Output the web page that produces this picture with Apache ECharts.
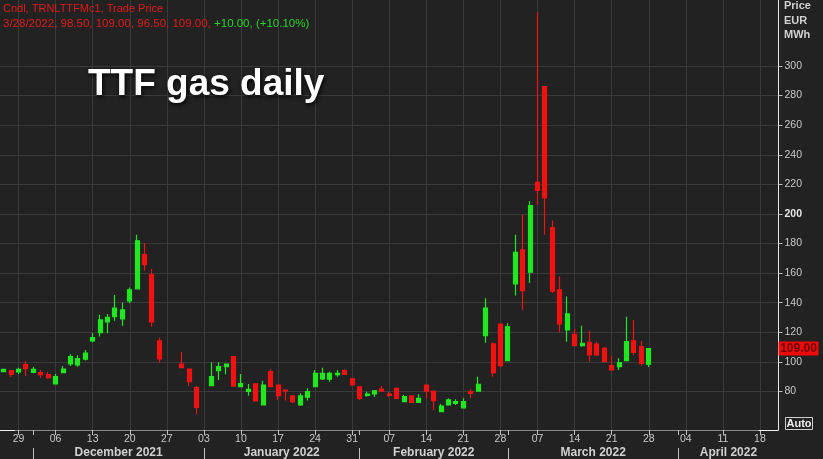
<!DOCTYPE html>
<html><head><meta charset="utf-8">
<script src="https://cdn.jsdelivr.net/npm/echarts@6/dist/echarts.min.js"></script>
<style>html,body{margin:0;padding:0;background:#222222;}#c{width:823px;height:459px;}</style>
</head><body><div id="c"></div>
<script>
// ---- data (trading days from 2021-11-25 to 2022-03-28; null = no trading) ----
const firstDay = '2021-11-25';
const lastDay = '2022-04-20';
const opens = [93.4,94.2,93.2,98.1,92.9, 92.7,91.4,85.1,92.7,98.6, 97.9,101.9,114.2,119.8,127.1,
  130.6,129.1,141.3,149.4,172.6, 158.9,114.2,null,null,98.6, 95.2,82.6,null,83.9,94.1,
  96.8,103.6,83.2,80.1,85.1, 70.9,93.4,84.4,81.0,77.0, 70.9,76.1,83.2,88.5,88.3,
  91.4,94.1,88.5,83.2,77.4, 78.3,81.7,78.3,82.2,73.1, 77.0,72.7,84.4,80.3,66.3,
  70.9,72.0,69.0,79.9,80.3, 117.8,112.2,125.5,100.9,152.8, 175.8,160.6,221.4,286.0,190.8,
  148.7,121.6,118.7,111.0,113.3, 112.0,109.2,97.5,96.8,100.9, 114.2,110.3,98.5];
const closes = [94.9,91.6,95.0,95.4,94.9, 91.4,89.3,90.0,95.2,103.6, 102.2,106.0,116.4,128.4,130.2,
  136.3,135.2,148.7,181.9,165.8, 127.0,102.0,null,null,96.1, 86.6,69.3,null,90.0,96.8,
  98.6,83.7,85.3,81.5,73.6, 84.4,83.2,77.2,80.4,73.1, 77.0,79.9,92.3,92.3,92.3,
  92.3,91.6,84.4,75.4,78.3, 80.5,80.3,77.4,75.4,76.5, 72.7,75.4,80.3,73.9,70.2,
  74.3,73.1,73.1,78.8,84.9, 136.3,92.7,97.5,123.9,174.0, 148.2,205.6,215.9,210.8,147.9,
  125.7,132.5,111.0,112.6,104.7, 104.7,100.2,94.6,99.5,113.7, 106.5,99.0,109.0];
const lows = [93.0,89.8,91.8,90.7,92.9, 88.9,88.7,85.1,92.7,97.3, 96.8,100.9,113.3,117.1,119.4,
  127.9,124.5,139.7,149.4,161.8, 123.9,99.5,null,null,96.1, 83.9,64.6,null,83.9,87.8,
  91.6,83.2,83.2,77.2,73.2, 70.9,83.2,74.3,73.9,72.0, 70.2,73.9,82.8,87.8,86.6,
  90.0,91.6,84.4,74.3,76.5, 76.5,80.3,76.5,74.9,72.7, 72.7,72.7,75.4,67.5,65.9,
  70.9,70.9,69.0,75.4,79.9, 113.0,90.0,96.4,100.9,144.9, 135.2,153.3,206.3,185.9,146.5,
  119.8,113.7,111.0,110.3,100.2, 104.0,100.2,94.6,94.6,100.9, 104.7,97.5,96.5];
const highs = [95.3,94.5,96.1,100.6,96.6, 94.6,93.2,91.8,97.3,105.2, 104.5,108.1,119.6,131.8,132.3,
  145.3,140.1,150.3,186.0,180.3, 162.9,116.4,null,null,106.7, 95.2,83.7,null,99.8,99.8,
  98.6,103.6,91.8,85.1,85.4, 87.3,95.0,84.4,81.0,77.0, 78.8,82.2,94.6,96.1,93.4,
  94.6,95.0,88.5,83.2,79.9, 81.0,83.7,79.9,82.9,77.6, 77.0,78.1,84.4,80.3,71.5,
  75.4,74.7,75.4,81.5,90.0, 143.1,113.3,125.5,126.2,185.9, 199.5,208.5,336.4,286.0,195.6,
  157.7,144.2,122.3,124.5,121.0, 113.7,110.3,104.2,102.5,130.6, 128.4,114.2,109.0];
const yTickLabels = [80,100,120,140,160,180,200,220,240,260,280,300];
const monthNames = ['January','February','March','April','May','June','July','August','September','October','November','December'];
const titleText = 'TTF gas daily';
const headerLine1 = 'Cndl, TRNLTTFMc1, Trade Price';
const unitLines = ['Price','EUR','MWh'];

// ---- categories: weekdays ----
function weekdays(a, b) {
  const out = []; let d = new Date(a + 'T00:00:00Z'); const e = new Date(b + 'T00:00:00Z');
  while (d <= e) { const w = d.getUTCDay(); if (w !== 0 && w !== 6) out.push(d.toISOString().slice(0, 10)); d = new Date(d.getTime() + 86400000); }
  return out;
}
const categories = weekdays(firstDay, lastDay);
const isMonday = v => new Date(v + 'T00:00:00Z').getUTCDay() === 1;
const mondays = categories.filter(isMonday);
const monthStarts = [];
categories.forEach((c, i) => { if (i > 0 && c.slice(5, 7) !== categories[i - 1].slice(5, 7)) monthStarts.push(i); });
const isMonthStart = i => monthStarts.indexOf(i) >= 0;
const monthMids = monthStarts.map((s, k) => ((k + 1 < monthStarts.length ? monthStarts[k + 1] : categories.length - 0.5) + s) / 2);
const monthLabelOf = {};
monthStarts.forEach((s, k) => { const c = categories[s]; monthLabelOf[monthMids[k]] = monthNames[+c.slice(5, 7) - 1] + ' ' + c.slice(0, 4); });

const candleData = opens.map((o, i) => o == null ? ['-', '-', '-', '-'] : [o, closes[i], lows[i], highs[i]]);

const UP = '#1fe81f', DOWN = '#f21212';
const chart = echarts.init(document.getElementById('c'), null, { renderer: 'canvas' });
const font = 'Liberation Sans, Arial, sans-serif';
chart.setOption({
  backgroundColor: '#222222',
  animation: false,
  grid: { left: -4.3, right: 44.5, top: 0, bottom: 29, containLabel: false },
  xAxis: [{
    type: 'category', data: categories, boundaryGap: true, position: 'bottom', z: 3,
    axisLine: { show: true, onZero: false, lineStyle: { color: '#8a8a8a', width: 1 } },
    axisTick: { show: true, alignWithLabel: true, length: 5, interval: (i, v) => isMonday(v) || isMonthStart(i), lineStyle: { color: '#c0c0c0' } },
    axisLabel: { interval: (i, v) => isMonday(v), formatter: v => v.slice(8, 10), color: '#c8c8c8', fontSize: 10.5, fontFamily: font, margin: 4 },
    splitLine: { show: false }
  }, {
    type: 'value', min: -0.5, max: categories.length - 0.5, position: 'bottom', offset: 18,
    axisLine: { show: false, onZero: false },
    axisTick: { show: true, customValues: monthStarts, length: 12, lineStyle: { color: '#c0c0c0' } },
    axisLabel: { customValues: monthMids, formatter: v => monthLabelOf[v] || '', color: '#d0d0d0', fontSize: 12, fontWeight: 'bold', fontFamily: font, margin: -1 },
    splitLine: { show: false }
  }],
  yAxis: {
    type: 'value', position: 'right', min: 53.98, max: 344.6, splitNumber: 14, scale: true,
    axisLine: { show: true, onZero: false, lineStyle: { color: '#e8e8e8', width: 1 } },
    axisTick: { show: true, length: 4, customValues: yTickLabels, lineStyle: { color: '#bbbbbb' } },
    axisLabel: { customValues: yTickLabels, color: '#c8c8c8', fontSize: 10.5, fontFamily: font, margin: 6,
      formatter: v => v === 200 ? '{b|200}' : String(v), rich: { b: { fontWeight: 'bold', color: '#e6e6e6', fontSize: 10.5, fontFamily: font } } },
    splitLine: { show: true, lineStyle: { color: '#3a3a3a', width: 1 } }
  },
  series: [{
    type: 'line', data: [], z: 0, silent: true,
    markLine: {
      silent: true, symbol: ['none', 'none'], animation: false, z: 0,
      label: { show: false },
      lineStyle: { color: '#3a3a3a', type: 'solid', width: 1 },
      emphasis: { disabled: true },
      data: mondays.map(m => ({ xAxis: m }))
    }
  }, {
    type: 'candlestick', data: candleData, barWidth: 4.5, z: 5,
    itemStyle: { color: UP, color0: DOWN, borderColor: UP, borderColor0: DOWN, borderWidth: 1.2 }
  }]
});

// overlay texts using axis conversion for price tag
const n = closes.length - 1;
const lastClose = closes[n];
const prevClose = closes[n - 1];
const chg = lastClose - prevClose;
const d = categories[n];
const dateStr = (+d.slice(5, 7)) + '/' + (+d.slice(8, 10)) + '/' + d.slice(0, 4);
const line2r = dateStr + ', ' + opens[n].toFixed(2) + ', ' + highs[n].toFixed(2) + ', ' + lows[n].toFixed(2) + ', ' + closes[n].toFixed(2) + ', ';
const line2g = (chg >= 0 ? '+' : '') + chg.toFixed(2) + ', (' + (chg >= 0 ? '+' : '') + (chg / prevClose * 100).toFixed(2) + '%)';
const py = chart.convertToPixel({ yAxisIndex: 0 }, lastClose);
const axisX = chart.convertToPixel({ xAxisIndex: 1 }, categories.length - 0.5);

chart.setOption({
  graphic: [
    { type: 'text', left: 3, top: 3, z: 30, style: { text: headerLine1, fill: '#e21a1a', font: '11px ' + font } },
    { type: 'text', left: 3, top: 18, z: 30, style: { text: '{r|' + line2r + '}{g|' + line2g + '}', rich: { r: { fill: '#e21a1a', font: '11.5px ' + font }, g: { fill: '#28d428', font: '11.5px ' + font } } } },
    { type: 'text', x: 88, y: 103, z: 30, style: { text: titleText, fill: '#ffffff', font: 'bold 37px ' + font, textVerticalAlign: 'bottom', textShadowColor: 'rgba(0,0,0,0.9)', textShadowBlur: 4, textShadowOffsetX: 1, textShadowOffsetY: 2 } },
    { type: 'text', x: axisX + 5.5, y: 6, z: 30, style: { text: unitLines[0], fill: '#d0d0d0', font: 'bold 11px ' + font, textVerticalAlign: 'middle' } },
    { type: 'text', x: axisX + 5.5, y: 20.5, z: 30, style: { text: unitLines[1], fill: '#d0d0d0', font: 'bold 11px ' + font, textVerticalAlign: 'middle' } },
    { type: 'text', x: axisX + 5.5, y: 35, z: 30, style: { text: unitLines[2], fill: '#d0d0d0', font: 'bold 11px ' + font, textVerticalAlign: 'middle' } },
    { type: 'rect', shape: { x: axisX, y: py - 7, width: 40, height: 14 }, style: { fill: '#ee0a0a' }, z: 30 },
    { type: 'text', x: axisX + 20, y: py, z: 31, style: { text: lastClose.toFixed(2), fill: '#6a0000', font: 'bold 12px ' + font, textAlign: 'center', textVerticalAlign: 'middle' } },
    { type: 'rect', shape: { x: axisX + 7, y: 417.5, width: 27, height: 12 }, style: { fill: '#222222', stroke: '#cfcfcf', lineWidth: 1 }, z: 30 },
    { type: 'text', x: axisX + 20.5, y: 424, z: 31, style: { text: 'Auto', fill: '#eeeeee', font: 'bold 11px ' + font, textAlign: 'center', textVerticalAlign: 'middle' } },
    { type: 'line', shape: { x1: axisX - 20, y1: 430.5, x2: axisX, y2: 430.5 }, style: { stroke: '#f0f0f0', lineWidth: 1 }, z: 30 },
    { type: 'line', shape: { x1: 0, y1: 430.5, x2: 15, y2: 430.5 }, style: { stroke: '#f0f0f0', lineWidth: 1 }, z: 30 }
  ]
});
</script></body></html>
